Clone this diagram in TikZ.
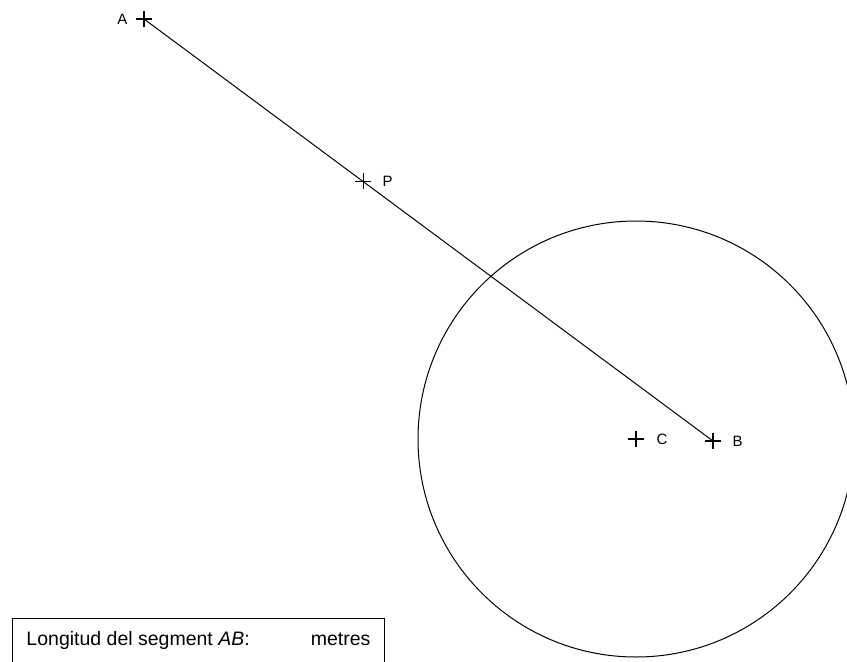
\documentclass[tikz,border=0pt]{standalone}
\usepackage{fontspec}
\setmainfont{Liberation Sans}
\usetikzlibrary{positioning, calc}

\tikzset{
  plusmark/.pic={\draw[line width=1.1pt] (-8,0) -- (8,0) (0,-8) -- (0,8);},
  ptlabel/.style={font=\fontsize{15}{17}\selectfont, inner sep=0pt}
}

\begin{document}
\begin{tikzpicture}[x=1pt, y=-1pt, line width=1pt]
    \useasboundingbox (0,0) rectangle (847,662);

    % Punts
    \coordinate (A) at (144,19);
    \coordinate (B) at (713,441);
    \coordinate (P) at ($(A)!0.385!(B)$);
    \coordinate (C) at (636,439);

    % Circumferencia de centre C
    \draw (C) circle (218);

    % Segment AB
    \draw (A) -- (B);

    \pic at (A) {plusmark};
    \pic at (P) {plusmark};
    \pic at (C) {plusmark};
    \pic at (B) {plusmark};

    \node[ptlabel, left=16pt of A] (labA) {A};
    \node[ptlabel, right=19pt of P] (labP) {P};
    \node[ptlabel, right=20pt of C] (labC) {C};
    \node[ptlabel, right=19pt of B] (labB) {B};

    % Quadre de resposta
    \draw (12,662) -- (12,618) -- (384,618) -- (384,662);
    \node[anchor=base west, inner sep=0pt, font=\fontsize{19.5}{22}\selectfont] (long) at (26,645) {Longitud del segment \textit{AB}:};
    \node[anchor=base east, inner sep=0pt, font=\fontsize{19.5}{22}\selectfont] (metres) at (371,645) {metres};
\end{tikzpicture}
\end{document}
